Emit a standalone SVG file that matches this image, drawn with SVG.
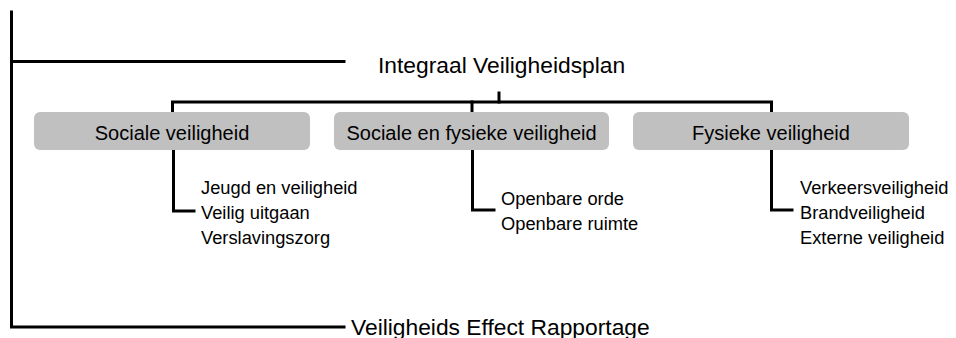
<svg xmlns="http://www.w3.org/2000/svg" width="956" height="338" viewBox="0 0 956 338">
<style>
.ln{fill:none;stroke:#000;stroke-width:3;stroke-linecap:square;stroke-linejoin:miter}
.box{fill:#c0c0c0}
.t{font-family:"Liberation Sans",Arial,sans-serif;fill:#000}
.big{font-size:22.8px}
.mid{font-size:20px}
.sm{font-size:18.3px}
</style>
<rect width="956" height="338" fill="#fff"/>
<g id="connectors">
<path class="ln" d="M11.5,12 V327 H344"/>
<path class="ln" d="M11.5,61.5 H344"/>
<path class="ln" d="M499,93 V102"/>
<path class="ln" d="M172.5,111 V102 H771.5 V111"/>
<path class="ln" d="M472,102 V111"/>
<path class="ln" d="M173.5,151 V211 H194"/>
<path class="ln" d="M472.5,151 V210 H494"/>
<path class="ln" d="M771.5,151 V210 H792"/>
</g>
<g id="plan">
<text class="t big" x="378" y="72.5">Integraal Veiligheidsplan</text>
</g>
<g id="rapportage">
<text class="t big" x="351" y="334.5">Veiligheids Effect Rapportage</text>
</g>
<g id="sociale">
<rect class="box" x="34" y="112" width="276" height="38" rx="6"/>
<text class="t mid" x="172" y="140" text-anchor="middle">Sociale veiligheid</text>
</g>
<g id="sociale-fysieke">
<rect class="box" x="334" y="112" width="275" height="38" rx="6"/>
<text class="t mid" x="471.5" y="140" text-anchor="middle">Sociale en fysieke veiligheid</text>
</g>
<g id="fysieke">
<rect class="box" x="633" y="112" width="276" height="38" rx="6"/>
<text class="t mid" x="771" y="140" text-anchor="middle">Fysieke veiligheid</text>
</g>
<g id="sociale-items">
<text class="t sm" x="201" y="194">Jeugd en veiligheid</text>
<text class="t sm" x="201" y="219">Veilig uitgaan</text>
<text class="t sm" x="201" y="244">Verslavingszorg</text>
</g>
<g id="sociale-fysieke-items">
<text class="t sm" x="501" y="205">Openbare orde</text>
<text class="t sm" x="501" y="230">Openbare ruimte</text>
</g>
<g id="fysieke-items">
<text class="t sm" x="800" y="194">Verkeersveiligheid</text>
<text class="t sm" x="800" y="219">Brandveiligheid</text>
<text class="t sm" x="800" y="244">Externe veiligheid</text>
</g>
</svg>
